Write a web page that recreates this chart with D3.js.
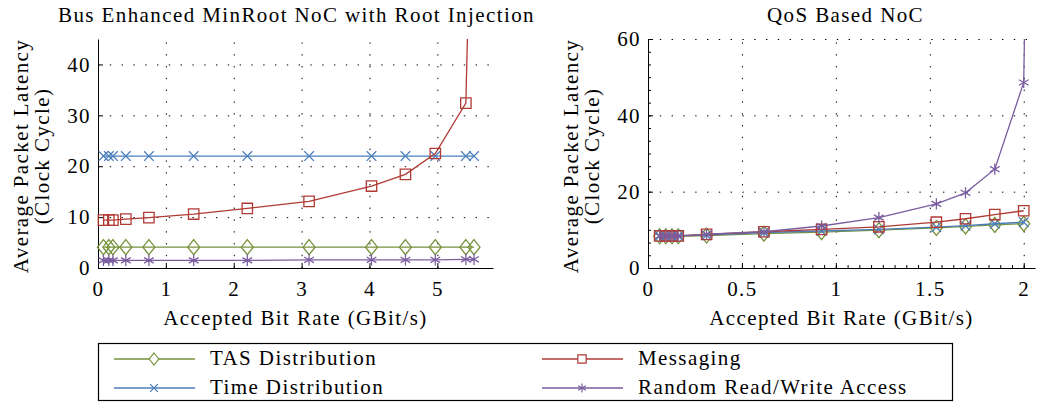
<!DOCTYPE html>
<html>
<head>
<meta charset="utf-8">
<script src="https://cdn.jsdelivr.net/npm/d3@7"></script>
<style>
  body { margin: 0; background: #fff; }
  svg text { font-family: "Liberation Serif", serif; font-size: 21px; letter-spacing: 1.4px; fill: #000; }
  .axis path, .axis line { stroke: #000; }
  .axis text { font-size: 21px; font-family: "Liberation Serif", serif; }
  .grid line { stroke: #000; stroke-dasharray: 1.4, 10.4; }
  .grid path { display: none; }
</style>
</head>
<body>
<svg width="1038" height="407"></svg>
<script>
// left panel: bus enhanced minroot noc
var busX = [0.08, 0.16, 0.22, 0.41, 0.75, 1.41, 2.2, 3.11, 4.03, 4.53, 4.97, 5.42, 5.54];
var busMsgX = [0.08, 0.16, 0.22, 0.41, 0.75, 1.41, 2.2, 3.11, 4.03, 4.53, 4.97, 5.42, 5.47];
var busTas = [4.1, 4.1, 4.1, 4.1, 4.1, 4.1, 4.1, 4.1, 4.1, 4.1, 4.1, 4.1, 4.1];
var busTime = [22.0, 22.0, 22.0, 22.0, 22.0, 22.0, 22.0, 22.0, 22.0, 22.0, 22.0, 22.0, 22.0];
var busMsg = [9.4, 9.4, 9.4, 9.6, 9.9, 10.6, 11.7, 13.1, 16.1, 18.4, 22.5, 32.4, 60];
var busRand = [1.5, 1.5, 1.5, 1.5, 1.5, 1.5, 1.5, 1.6, 1.6, 1.6, 1.6, 1.7, 1.7];

// right panel: qos based noc
var qosX = [0.062, 0.095, 0.128, 0.161, 0.312, 0.617, 0.924, 1.229, 1.535, 1.69, 1.846, 2.0];
var qosRandX = [0.062, 0.095, 0.128, 0.161, 0.312, 0.617, 0.924, 1.229, 1.535, 1.69, 1.846, 2.0, 2.01];
var qosTas = [8.3, 8.3, 8.3, 8.3, 8.5, 9.0, 9.4, 9.9, 10.5, 10.9, 11.3, 11.6];
var qosTime = [8.4, 8.4, 8.4, 8.4, 8.6, 9.3, 9.7, 10.1, 10.7, 11.1, 11.6, 12.0];
var qosMsg = [8.4, 8.4, 8.4, 8.4, 8.8, 9.5, 10.1, 10.8, 12.0, 12.9, 14.0, 15.0];
var qosRand = [8.4, 8.4, 8.4, 8.4, 8.9, 9.5, 11.0, 13.2, 16.8, 19.7, 25.9, 48.6, 80];

var busXTicks = [0, 1, 2, 3, 4, 5];
var busYTicks = [0, 10, 20, 30, 40];
var qosXTicks = [0, 0.5, 1, 1.5, 2];
var qosYTicks = [0, 20, 40, 60];

var seriesNames = ["TAS Distribution", "Messaging", "Time Distribution", "Random Read/Write Access"];
var seriesMarks = ["diamond", "square", "cross", "star"];
var seriesColors = ["#76923c", "#b03a34", "#4a7ebb", "#7b5ea0"];

var svg = d3.select("svg");

// marker shapes
function markerPath(kind, s) {
  if (kind == "diamond") {
    return `M0,${-7.5 * s}L${6 * s},0L0,${7.5 * s}L${-6 * s},0Z`;
  } else if (kind == "square") {
    var h = 5.2 * s;
    return `M${-h},${-h}H${h}V${h}H${-h}Z`;
  } else if (kind == "cross") {
    var c = 4.8 * s;
    return `M${-c},${-c}L${c},${c}M${-c},${c}L${c},${-c}`;
  } else {
    var r = 5.6 * s, a = r * Math.sin(Math.PI / 3), b = r * 0.5;
    return `M0,${-r}V${r}M${-a},${-b}L${a},${b}M${-a},${b}L${a},${-b}`;
  }
}

function panel(id, title, titleShift, xDomain, xRange, yDomain, xTicks, yTicks, series, xMinor, yMinor) {
  var xScale = d3.scaleLinear().domain(xDomain).range(xRange);
  var yScale = d3.scaleLinear().domain(yDomain).range([268, 39]);
  var g = svg.append("g");

  // dotted grid
  g.append("g")
    .attr("class", "grid")
    .attr("transform", "translate(0,268)")
    .call(d3.axisBottom(xScale).tickValues(xTicks.filter((d) => d != 0)).tickSize(-229).tickFormat(""));
  g.append("g")
    .attr("class", "grid")
    .attr("transform", `translate(${xRange[0]},0)`)
    .call(d3.axisLeft(yScale).tickValues(yTicks.filter((d) => d != 0)).tickSize(-(xRange[1] - xRange[0])).tickFormat(""));

  // minor ticks
  if (xMinor) {
    g.append("g")
      .attr("class", "axis")
      .attr("transform", "translate(0,268)")
      .call(d3.axisBottom(xScale).tickValues(xMinor).tickSize(-3).tickFormat(""))
      .select("path").remove();
  }
  if (yMinor) {
    g.append("g")
      .attr("class", "axis")
      .attr("transform", `translate(${xRange[0]},0)`)
      .call(d3.axisLeft(yScale).tickValues(yMinor).tickSize(-3).tickFormat(""))
      .select("path").remove();
  }

  // axes, ticks point inwards
  g.append("g")
    .attr("class", "axis")
    .attr("transform", "translate(0,268)")
    .call(d3.axisBottom(xScale).tickValues(xTicks).tickSizeInner(-5).tickSizeOuter(0).tickPadding(13).tickFormat(d3.format("")));
  g.append("g")
    .attr("class", "axis")
    .attr("transform", `translate(${xRange[0]},0)`)
    .call(d3.axisLeft(yScale).tickValues(yTicks).tickSizeInner(-5).tickSizeOuter(0).tickPadding(7));

  // clip to plot area
  g.append("clipPath")
    .attr("id", id)
    .append("rect")
    .attr("x", xRange[0] - 10)
    .attr("y", 39)
    .attr("width", xRange[1] - xRange[0] + 20)
    .attr("height", 240);

  var plot = g.append("g").attr("clip-path", `url(#${id})`);
  series.forEach(function (s) {
    var pts = s.x.map((x, i) => ({ x: x, y: s.y[i] }));
    plot.append("path")
      .attr("d", d3.line().x((d) => xScale(d.x)).y((d) => yScale(d.y))(pts))
      .attr("fill", "none")
      .attr("stroke", seriesColors[s.k])
      .attr("stroke-width", 1.3);
    plot.selectAll(null)
      .data(pts)
      .enter()
      .append("path")
      .attr("transform", (d) => `translate(${xScale(d.x)},${yScale(d.y)})`)
      .attr("d", markerPath(seriesMarks[s.k], 1))
      .attr("fill", "none")
      .attr("stroke", seriesColors[s.k])
      .attr("stroke-width", 1.3);
  });

  // titles
  var cx = (xRange[0] + xRange[1]) / 2;
  svg.append("text")
    .attr("x", cx + titleShift)
    .attr("y", 22)
    .attr("text-anchor", "middle")
    .text(title);
  svg.append("text")
    .attr("x", cx)
    .attr("y", 325)
    .attr("text-anchor", "middle")
    .text("Accepted Bit Rate (GBit/s)");
  var lx = xRange[0] - 70;
  svg.append("text")
    .attr("transform", `translate(${lx},156) rotate(-90)`)
    .attr("text-anchor", "middle")
    .text("Average Packet Latency");
  svg.append("text")
    .attr("transform", `translate(${lx + 21},156) rotate(-90)`)
    .attr("text-anchor", "middle")
    .text("(Clock Cycle)");
}

panel("clipBus", "Bus Enhanced MinRoot NoC with Root Injection", 1, [0, 5.82], [98, 493], [0, 45],
  busXTicks, busYTicks,
  [
    { k: 0, x: busX, y: busTas },
    { k: 2, x: busX, y: busTime },
    { k: 3, x: busX, y: busRand },
    { k: 1, x: busMsgX, y: busMsg },
  ], null, null);

panel("clipQos", "QoS Based NoC", 4, [0, 2.06], [648, 1035], [0, 60],
  qosXTicks, qosYTicks,
  [
    { k: 0, x: qosX, y: qosTas },
    { k: 2, x: qosX, y: qosTime },
    { k: 1, x: qosX, y: qosMsg },
    { k: 3, x: qosRandX, y: qosRand },
  ], d3.range(0, 2.06, 0.0625), d3.range(0, 60.1, 20 / 6));

// legend box
svg.append("rect")
  .attr("x", 98.5)
  .attr("y", 343.5)
  .attr("width", 854)
  .attr("height", 57)
  .attr("fill", "#fff")
  .attr("stroke", "#000")
  .attr("stroke-width", 1.2);

var legend = svg.selectAll("g.legend")
  .data(seriesNames)
  .enter()
  .append("g")
  .attr("class", "legend")
  .attr("transform", (d, i) => `translate(${i % 2 == 0 ? 114 : 542},${i < 2 ? 359 : 388})`);

legend.append("line")
  .attr("x1", 0)
  .attr("x2", 81)
  .attr("stroke", (d, i) => seriesColors[i])
  .attr("stroke-width", 1.3);
legend.append("path")
  .attr("transform", "translate(40,0)")
  .attr("d", (d, i) => markerPath(seriesMarks[i], 0.8))
  .attr("fill", "#fff")
  .attr("stroke", (d, i) => seriesColors[i])
  .attr("stroke-width", 1.2);
legend.append("text")
  .attr("x", 96)
  .attr("y", 6)
  .text((d) => d);
</script>
</body>
</html>
